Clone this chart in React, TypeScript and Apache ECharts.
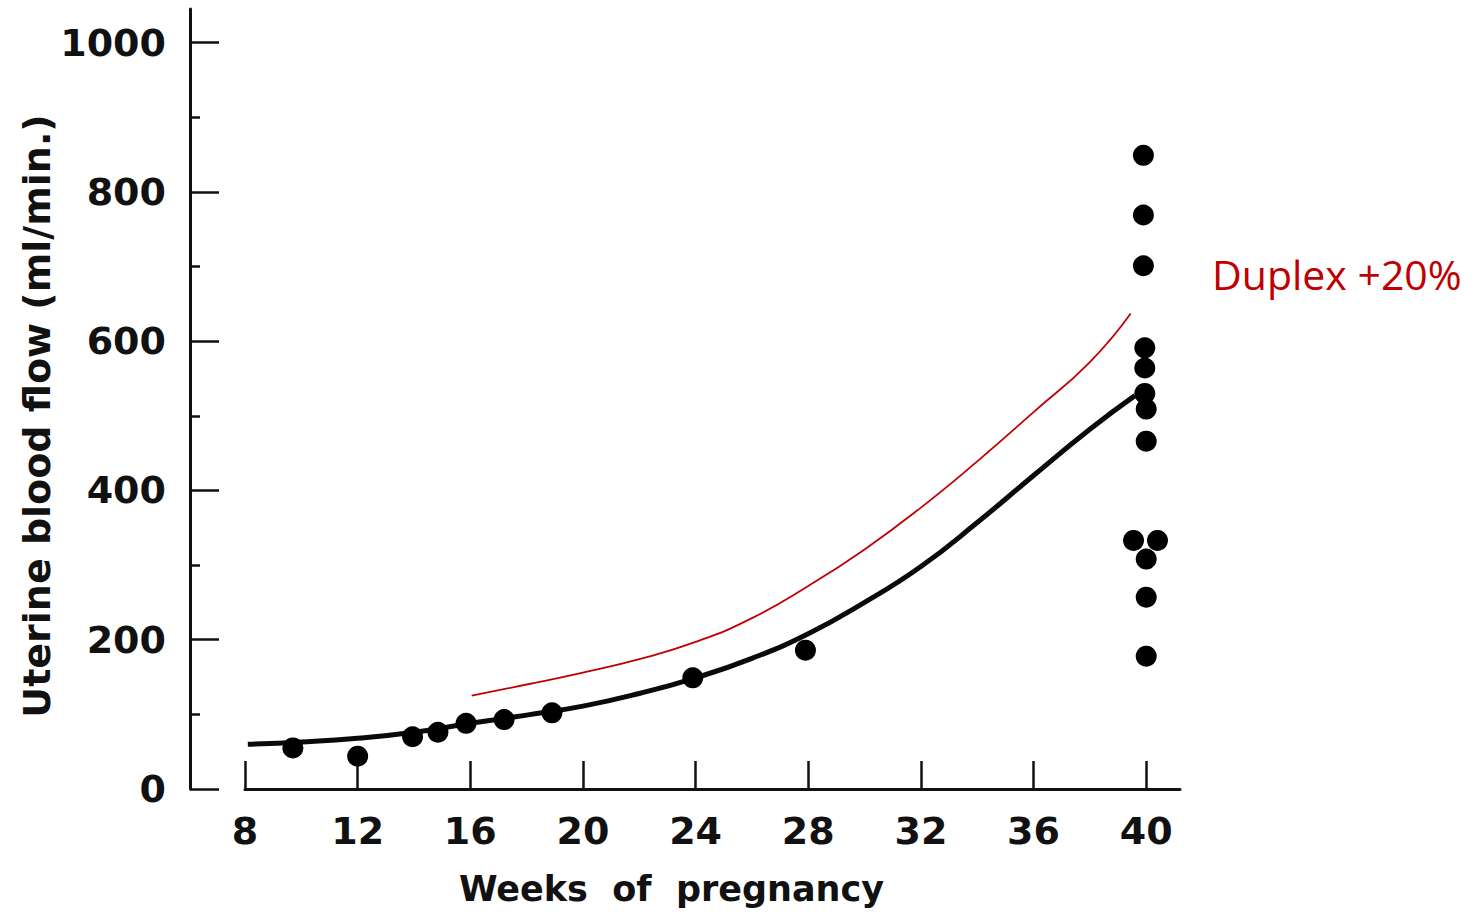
import React, { useEffect, useRef } from 'react';
import * as echarts from 'echarts';

// Tick positions / labels
const xTicks = [8, 12, 16, 20, 24, 28, 32, 36, 40];
const yMajorTicks = [0, 200, 400, 600, 800, 1000];
const yMinorTicks = [100, 300, 500, 700, 900];

// Measured uterine blood flow (week, ml/min)
const measuredPoints: [number, number][] = [
  [9.7, 55],
  [12, 44],
  [13.95, 70],
  [14.85, 76],
  [15.85, 88],
  [17.2, 93],
  [18.9, 102],
  [23.9, 149],
  [27.9, 186],
  [39.9, 849],
  [39.9, 769],
  [39.9, 701],
  [39.95, 591],
  [39.95, 564],
  [39.95, 530],
  [40, 509],
  [40, 466],
  [39.55, 333],
  [40.4, 333],
  [40, 308],
  [40, 257],
  [40, 178],
];

// Fitted curve (black)
const fittedCurve: [number, number][] = [
  [8.1, 60], [10, 63], [12, 68], [14, 76], [16, 88], [18, 99], [20, 111],
  [22, 128], [24, 149], [26, 175], [28, 208], [30, 250], [32, 298],
  [34, 357], [36, 420], [38, 482], [39.6, 527],
];

// Duplex +20% curve (red)
const duplexCurve: [number, number][] = [
  [16.05, 125], [18, 140], [20, 156], [22, 174], [24, 197], [26, 229],
  [28, 272], [30, 321], [32, 377], [34, 439], [36, 505], [38, 572], [39.45, 637],
];

const FONT = "'DejaVu Sans', sans-serif";
const INK = '#111111';

export default function App() {
  const ref = useRef<HTMLDivElement>(null);

  useEffect(() => {
    const chart = echarts.init(ref.current!, null, { renderer: 'svg' });
    chart.setOption({
      animation: false,
      backgroundColor: '#ffffff',
      grid: [
        { left: 245, right: 302, top: 9, bottom: 129 },
        { left: 190, width: 1, top: 9, bottom: 129 },
      ],
      xAxis: [
        {
          gridIndex: 0,
          type: 'value',
          min: 8,
          max: 41.2,
          axisLine: { show: true, onZero: false, lineStyle: { color: INK, width: 3 } },
          axisTick: {
            show: true,
            inside: true,
            length: 28,
            customValues: xTicks,
            lineStyle: { color: INK, width: 2.5 },
          },
          axisLabel: {
            customValues: xTicks,
            formatter: (v: number) => String(v),
            margin: 23,
            fontSize: 38,
            fontWeight: 'bold',
            fontFamily: FONT,
            color: INK,
          },
          splitLine: { show: false },
          name: 'Weeks  of  pregnancy',
          nameLocation: 'middle',
          nameGap: 82,
          nameTextStyle: {
            fontSize: 35,
            fontWeight: 'bold',
            fontFamily: FONT,
            color: INK,
            padding: [0, 82, 0, 0],
          },
        },
        { gridIndex: 1, type: 'value', min: 0, max: 1, show: false },
      ],
      yAxis: [
        { gridIndex: 0, type: 'value', min: 0, max: 1045, show: false },
        {
          gridIndex: 1,
          type: 'value',
          min: 0,
          max: 1045,
          position: 'left',
          axisLine: { show: true, lineStyle: { color: INK, width: 3 } },
          axisTick: {
            show: true,
            inside: true,
            length: 29,
            customValues: yMajorTicks,
            lineStyle: { color: INK, width: 2.5 },
          },
          axisLabel: {
            customValues: yMajorTicks,
            formatter: (v: number) => String(v),
            margin: 24,
            fontSize: 38,
            fontWeight: 'bold',
            fontFamily: FONT,
            color: INK,
          },
          splitLine: { show: false },
          name: 'Uterine blood flow (ml/min.)',
          nameLocation: 'middle',
          nameRotate: 90,
          nameGap: 119,
          nameTextStyle: {
            fontSize: 38,
            fontWeight: 'bold',
            fontFamily: FONT,
            color: INK,
            padding: [0, 34, 0, 0],
          },
        },
        {
          gridIndex: 1,
          type: 'value',
          min: 0,
          max: 1045,
          position: 'left',
          axisLine: { show: false },
          axisTick: {
            show: true,
            inside: true,
            length: 10,
            customValues: yMinorTicks,
            lineStyle: { color: INK, width: 2.5 },
          },
          axisLabel: { show: false },
          splitLine: { show: false },
        },
      ],
      series: [
        {
          type: 'line',
          name: 'Fitted',
          xAxisIndex: 0,
          yAxisIndex: 0,
          data: fittedCurve,
          smooth: true,
          symbol: 'none',
          lineStyle: { color: '#0a0a0a', width: 5 },
          z: 3,
        },
        {
          type: 'line',
          name: 'Duplex +20%',
          xAxisIndex: 0,
          yAxisIndex: 0,
          data: duplexCurve,
          smooth: true,
          symbol: 'none',
          lineStyle: { color: '#c00000', width: 1.8 },
          z: 2,
        },
        {
          type: 'scatter',
          name: 'Measured',
          xAxisIndex: 0,
          yAxisIndex: 0,
          data: measuredPoints,
          symbol: 'circle',
          symbolSize: 21,
          itemStyle: { color: '#000000', opacity: 1 },
          z: 4,
        },
      ],
      graphic: [
        {
          type: 'text',
          x: 1212,
          y: 274,
          style: {
            text: 'Duplex +20%',
            fill: '#c00000',
            fontSize: 41,
            fontFamily: "'Open Sans', sans-serif",
            align: 'left',
            verticalAlign: 'middle',
          },
        },
      ],
    });
    return () => chart.dispose();
  }, []);

  return (
    <div
      ref={ref}
      style={{ position: 'fixed', left: 0, top: 0, width: 1482, height: 918, background: '#fff' }}
    />
  );
}
